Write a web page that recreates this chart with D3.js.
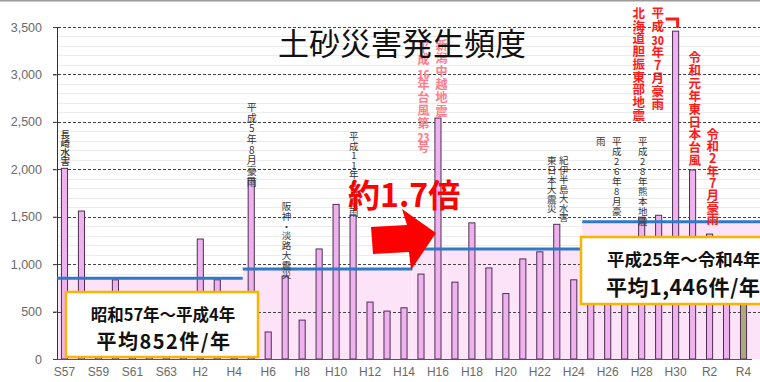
<!DOCTYPE html>
<html>
<head>
<meta charset="utf-8">
<script src="https://cdn.jsdelivr.net/npm/d3@7"></script>
<style>
  body { margin: 0; background: #fff; }
  #chart { position: relative; width: 760px; height: 382px; }
  #chart svg { position: absolute; left: 0; top: 0; display: block; }
  .tate { position: absolute; writing-mode: vertical-rl; text-orientation: upright;
          white-space: nowrap; font-family: 'Noto Sans CJK JP', sans-serif; }
  .tcy { text-combine-upright: all; }
</style>
</head>
<body>
<div id="chart"></div>
<script>
// years on the x axis (S = 昭和, H = 平成, R = 令和)
const years = ["S57","S58","S59","S60","S61","S62","S63",
  "H1","H2","H3","H4","H5","H6","H7","H8","H9","H10","H11","H12","H13","H14",
  "H15","H16","H17","H18","H19","H20","H21","H22","H23","H24",
  "H25","H26","H27","H28","H29","H30","R1","R2","R3","R4"];

// 土砂災害発生件数 per year
const counts = [2010,1560,520,835,660,440,560,
  390,1265,835,300,1910,285,875,410,1160,1630,1515,600,505,540,
  895,2540,810,1435,960,690,1055,1130,1420,835,
  941,1184,788,1495,1515,3456,1993,1317,972,795];

// period averages
const periodFrom = ["S57","H5","H15","H25"];
const periodTo   = ["H4","H14","H24","R4"];
const periodAvg  = [852, 948, 1160, 1446];

const yTicks = [0,500,1000,1500,2000,2500,3000,3500];

const width = 760, height = 382;
const cjk = "'Noto Sans CJK JP', sans-serif";
const latin = "'Liberation Sans', Arial, sans-serif";

const chart = d3.select("#chart");
const svg = chart.append("svg")
  .attr("width", width)
  .attr("height", height);

const x = d3.scaleBand().domain(years).range([56, 752]).padding(0);
const cx = d => x(d) + x.bandwidth() / 2;
const barW = x.bandwidth() * 0.36;
const y = d3.scaleLinear().domain([0, 3500]).range([359, 27]);

// top border of the slide
svg.append("line").attr("x1", 0).attr("x2", width).attr("y1", 0.5).attr("y2", 0.5)
  .style("stroke", "#9a9a9a").style("stroke-width", 2);

// minor grid
svg.append("g").selectAll("line")
  .data(d3.range(100, 3501, 100).filter(v => v % 500 !== 0))
  .enter().append("line")
  .attr("x1", 57).attr("x2", width)
  .attr("y1", d => Math.round(y(d)) + 0.5).attr("y2", d => Math.round(y(d)) + 0.5)
  .style("stroke", "#ececec");

// pink area under each average
const per = periodAvg.map((a, i) => ({
  x0: i === 0 ? 57 : x(periodFrom[i]),
  x1: i === periodAvg.length - 1 ? width : x(periodTo[i]) + x.bandwidth(),
  avg: a
}));
svg.append("g").selectAll("rect")
  .data(per).enter().append("rect")
  .attr("x", d => d.x0).attr("width", d => d.x1 - d.x0)
  .attr("y", d => y(d.avg)).attr("height", d => y(0) - y(d.avg))
  .style("fill", "#fde3f8");

// dashed major grid
svg.append("g").selectAll("line")
  .data(yTicks.filter(v => v > 0))
  .enter().append("line")
  .attr("x1", 53).attr("x2", width)
  .attr("y1", d => Math.round(y(d)) + 0.5).attr("y2", d => Math.round(y(d)) + 0.5)
  .style("stroke", "#444").style("stroke-dasharray", "3,2");

// y axis labels
const yAxis = svg.append("g")
  .attr("transform", "translate(57,0)")
  .call(d3.axisLeft(y).tickValues(yTicks).tickFormat(d3.format(",")).tickSize(4).tickPadding(11));
yAxis.select(".domain").remove();
yAxis.selectAll("line").style("stroke", "#444");
yAxis.selectAll("text").style("font-family", latin).style("font-size", "12.5px").style("fill", "#6a6a6a");

// bars
svg.append("g").selectAll("rect")
  .data(counts).enter().append("rect")
  .attr("x", (d, i) => cx(years[i]) - barW / 2)
  .attr("y", d => y(d))
  .attr("width", barW)
  .attr("height", d => y(0) - y(d))
  .style("fill", (d, i) => i === counts.length - 1 ? "#a9ab7c" : "#eeb2ee")
  .style("stroke", "#4e2e50")
  .style("stroke-width", 1);

// axis lines
svg.append("line").attr("x1", 57.5).attr("x2", 57.5).attr("y1", y(3500)).attr("y2", y(0))
  .style("stroke", "#333");
svg.append("line").attr("x1", 57).attr("x2", 752).attr("y1", y(0) + 0.5).attr("y2", y(0) + 0.5)
  .style("stroke", "#555");

// x axis labels, every other year
const xAxis = svg.append("g")
  .attr("transform", `translate(0,${y(0)})`)
  .call(d3.axisBottom(x).tickValues(years.filter((d, i) => i % 2 === 0)).tickSize(0).tickPadding(8));
xAxis.select(".domain").remove();
xAxis.selectAll("text").style("font-family", latin).style("font-size", "12px").style("fill", "#6a6a6a");

// average lines
svg.append("g").selectAll("line")
  .data(per).enter().append("line")
  .attr("x1", d => d.x0).attr("x2", d => d.x1)
  .attr("y1", d => y(d.avg)).attr("y2", d => y(d.avg))
  .style("stroke", "#2f79c9").style("stroke-width", 3);

// red hook to the H30 bar
svg.append("path")
  .attr("d", `M${cx("H30") - 10},19 H${cx("H30") + 2} V28`)
  .style("fill", "none").style("stroke", "#ff1a1a").style("stroke-width", 3);

// summary boxes
svg.append("rect").attr("x", 66).attr("y", 292).attr("width", 192).attr("height", 65)
  .style("fill", "#fff").style("stroke", "#f7b500").style("stroke-width", 2.5);
svg.append("text").attr("x", 163).attr("y", 321).attr("text-anchor", "middle")
  .style("font-family", cjk).style("font-size", "16.5px").style("font-weight", 700).style("fill", "#111")
  .text("昭和57年～平成4年");
svg.append("text").attr("x", 164).attr("y", 349).attr("text-anchor", "middle")
  .style("font-family", cjk).style("font-size", "20px").style("font-weight", 700).style("fill", "#111")
  .style("letter-spacing", "1.5px")
  .text("平均852件/年");

svg.append("rect").attr("x", 581).attr("y", 237).attr("width", 190).attr("height", 67)
  .style("fill", "#fff").style("stroke", "#f7b500").style("stroke-width", 2.5);
svg.append("text").attr("x", 607).attr("y", 266)
  .style("font-family", cjk).style("font-size", "17.5px").style("font-weight", 700).style("fill", "#111")
  .text("平成25年～令和4年");
svg.append("text").attr("x", 606).attr("y", 295)
  .style("font-family", cjk).style("font-size", "21px").style("font-weight", 700).style("fill", "#111")
  .style("letter-spacing", "0.6px")
  .text("平均1,446件/年");

// vertical (tategaki) labels as html, digit groups set tate-chu-yoko
function vtext(str, tx, ty, step, size, color, weight, group) {
  const toks = group ? str.match(/\d+|./g) : str.split("");
  const d = chart.append("div")
    .attr("class", "tate")
    .style("left", (tx - size / 2) + "px")
    .style("top", (ty - size / 2) + "px")
    .style("font-size", size + "px")
    .style("line-height", size + "px")
    .style("font-weight", weight)
    .style("letter-spacing", (step - size) + "px")
    .style("color", color);
  toks.forEach(c => {
    const s = d.append("span").text(c);
    if (c.length > 1) s.attr("class", "tcy");
  });
}
const noteCol = "#333";
vtext("長崎水害", cx("S57"), 135, 9, 9.5, noteCol, 500, false);
vtext("平成5年8月豪雨", cx("H5"), 107, 10.7, 10, noteCol, 400, false);
vtext("阪神・淡路大震災", cx("H7") + 0.5, 207, 9.7, 9.5, noteCol, 400, false);
vtext("平成11年6月豪雨", cx("H11"), 137, 9.4, 9.5, noteCol, 400, false);
vtext("平成16年台風第23号", 423, 47, 12.8, 12, "#ff7d8a", 700, true);
vtext("新潟中越地震", 441, 45, 13.2, 12, "#ff7d8a", 700, true);
vtext("東日本大震災", 551, 161, 9.6, 9.5, noteCol, 400, false);
vtext("紀伊半島大水害", 563, 161, 9.5, 9.5, noteCol, 400, false);
vtext("平成26年8月豪", 616, 142, 9.9, 9.5, noteCol, 400, false);
vtext("雨", 600, 142, 9.9, 9.5, noteCol, 400, false);
vtext("平成28年熊本地震", 642, 142, 9.9, 9.5, noteCol, 400, false);
vtext("北海道胆振東部地震", 638, 13, 12.7, 12.5, "#ff1a1a", 700, true);
vtext("平成30年7月豪雨", 657, 13, 13, 12.5, "#ff1a1a", 700, true);
vtext("令和元年東日本台風", 694, 57, 12.9, 12.5, "#ff1a1a", 700, true);
vtext("令和2年7月豪雨", 712, 134, 12.2, 12.5, "#ff1a1a", 700, true);

// upper layer: arrow, 約1.7倍 and the title sit over the labels
const overlay = chart.append("svg")
  .attr("width", width)
  .attr("height", height);

overlay.append("polygon")
  .attr("points", "371,227 407,225 402,209 436,233 411,270 409,252 373,254")
  .style("fill", "#ff0000");

overlay.append("text").attr("x", 348).attr("y", 207)
  .style("font-family", cjk).style("font-size", "32px").style("font-weight", 700).style("fill", "#ff0000")
  .text("約1.7倍");

overlay.append("text").attr("x", 278).attr("y", 55)
  .style("font-family", cjk).style("font-size", "31px").style("font-weight", 400).style("fill", "#111")
  .text("土砂災害発生頻度");
</script>
</body>
</html>
